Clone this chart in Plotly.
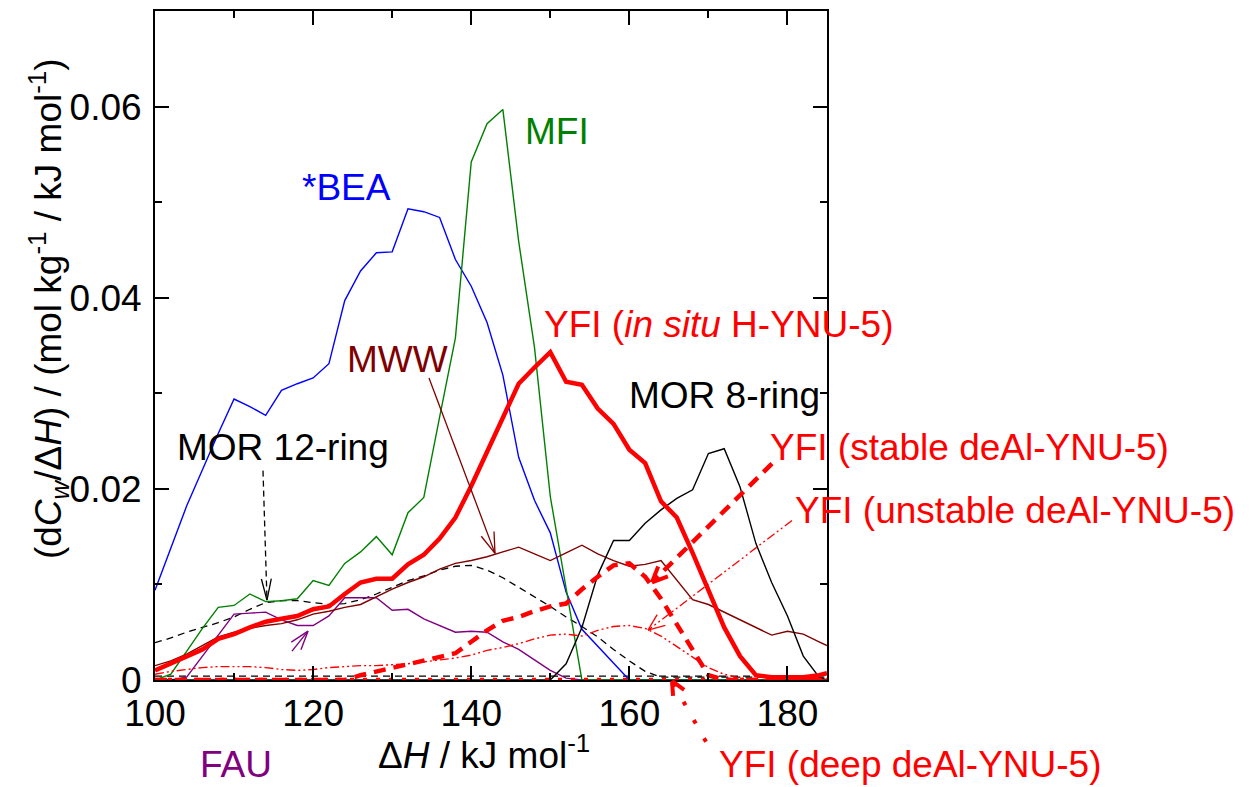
import math
import plotly.graph_objects as go

FONT = "Liberation Sans, Arial, sans-serif"

# ---------------- data ----------------
H = [100, 102, 104, 106, 108, 110, 112, 114, 116, 118, 120, 122, 124, 126, 128, 130,
     132, 134, 136, 138, 140, 142, 144, 146, 148, 150, 152, 154, 156, 158, 160,
     162, 164, 166, 168, 170, 172, 174, 176, 178, 180, 182, 184, 185]

BEA = [0.0094, 0.0138, 0.0182, 0.0220, 0.0258, 0.0294,
       0.0286, 0.0277, 0.0303, 0.0310, 0.0316,
       0.0331, 0.0397, 0.0428, 0.0447, 0.0448,
       0.0493, 0.0490, 0.0484, 0.0440, 0.0412,
       0.0374, 0.0319, 0.0233, 0.0188, 0.0154,
       0.0092, 0.0053, 0.0035, 0.0018, 0.0,
       0.0, 0.0, 0.0, 0.0, 0.0,
       0.0, 0.0, 0.0, 0.0, 0.0,
       0.0, 0.0, 0.0]

MFI = [0.0, 0.0006, 0.0030, 0.0054, 0.0076, 0.0078,
       0.0090, 0.0082, 0.0083, 0.0085, 0.0104,
       0.0099, 0.0122, 0.0134, 0.0150, 0.0131,
       0.0175, 0.0191, 0.0275, 0.0358, 0.0542,
       0.0582, 0.0597, 0.0459, 0.0348, 0.0192,
       0.0096, 0.0, 0.0, 0.0, 0.0,
       0.0, 0.0, 0.0, 0.0, 0.0,
       0.0, 0.0, 0.0, 0.0, 0.0,
       0.0, 0.0, 0.0]

MWW = [0.0015, 0.0020, 0.0027, 0.0036, 0.0045, 0.0050,
       0.0054, 0.0057, 0.0059, 0.0063, 0.0069,
       0.0072, 0.0076, 0.0079, 0.0087, 0.0095,
       0.0102, 0.0108, 0.0116, 0.0122, 0.0125,
       0.0129, 0.0134, 0.0139, 0.0132, 0.0125,
       0.0133, 0.0141, 0.0132, 0.0125, 0.0119,
       0.0121, 0.0125, 0.0104, 0.0084, 0.0079,
       0.0071, 0.0063, 0.0055, 0.0047, 0.0051,
       0.0048, 0.0040, 0.0036]

MOR8 = [0.0, 0.0, 0.0, 0.0, 0.0, 0.0,
        0.0, 0.0, 0.0, 0.0, 0.0,
        0.0, 0.0, 0.0, 0.0, 0.0,
        0.0, 0.0, 0.0, 0.0, 0.0,
        0.0, 0.0, 0.0, 0.0, 0.0,
        0.0017, 0.0055, 0.0110, 0.0146, 0.0146,
        0.0164, 0.0178, 0.0190, 0.0199, 0.0237,
        0.0242, 0.0202, 0.0143, 0.0102, 0.0067,
        0.0025, 0.0003, 0.0]

MOR12 = [0.0039, 0.0044, 0.0050, 0.0055, 0.0060, 0.0066,
         0.0074, 0.0081, 0.0083, 0.0083, 0.0081,
         0.0079, 0.0080, 0.0084, 0.0090, 0.0097,
         0.0104, 0.0109, 0.0115, 0.0119, 0.0120,
         0.0115, 0.0107, 0.0097, 0.0087, 0.0077,
         0.0066, 0.0056, 0.0045, 0.0032, 0.0020,
         0.0009, 0.0003, 0.0003, 0.0003, 0.0003,
         0.0003, 0.0003, 0.0003, 0.0003, 0.0003,
         0.0003, 0.0003, 0.0003]

BASE_H = [100, 185]
BASE_DASHED = [0.0004, 0.0004]

FAU = [0.0, 0.0, 0.0003, 0.0025, 0.0047, 0.0069,
       0.0070, 0.0071, 0.0063, 0.0057, 0.0057,
       0.0067, 0.0086, 0.0086, 0.0086, 0.0073,
       0.0074, 0.0064, 0.0057, 0.0050, 0.0051,
       0.0050, 0.0040, 0.0032, 0.0021, 0.0010,
       0.0002, 0.0, 0.0, 0.0, 0.0,
       0.0, 0.0, 0.0, 0.0, 0.0,
       0.0, 0.0, 0.0, 0.0, 0.0,
       0.0, 0.0, 0.0]

YFI_INSITU = [0.0010, 0.0017, 0.0024, 0.0032, 0.0043, 0.0048,
              0.0055, 0.0061, 0.0064, 0.0067, 0.0074,
              0.0077, 0.0090, 0.0102, 0.0106, 0.0106,
              0.0121, 0.0131, 0.0148, 0.0170, 0.0203,
              0.0239, 0.0274, 0.0310, 0.0327, 0.0343,
              0.0312, 0.0309, 0.0284, 0.0268, 0.0241,
              0.0227, 0.0187, 0.0170, 0.0133, 0.0093,
              0.0055, 0.0025, 0.0005, 0.0003, 0.0003,
              0.0003, 0.0005, 0.0007]

YFI_STABLE = [0.0, 0.0, 0.0, 0.0, 0.0, 0.0,
              0.0, 0.0, 0.0, 0.0, 0.0,
              0.0, 0.0, 0.0005, 0.0009, 0.0012,
              0.0016, 0.0020, 0.0024, 0.0028, 0.0040,
              0.0052, 0.0062, 0.0066, 0.0072, 0.0077,
              0.0080, 0.0095, 0.0108, 0.0120, 0.0122,
              0.0108, 0.0085, 0.0058, 0.0031, 0.0005,
              0.0, 0.0, 0.0, 0.0, 0.0,
              0.0, 0.0, 0.0]

YFI_UNSTABLE = [0.0006, 0.0009, 0.0011, 0.0013, 0.0014, 0.0014,
                0.0014, 0.0013, 0.0011, 0.0010, 0.0011,
                0.0013, 0.0014, 0.0015, 0.0015, 0.0016,
                0.0017, 0.0019, 0.0021, 0.0023, 0.0026,
                0.0031, 0.0034, 0.0038, 0.0043, 0.0047,
                0.0048, 0.0046, 0.0052, 0.0056, 0.0057,
                0.0054, 0.0046, 0.0035, 0.0024, 0.0013,
                0.0006, 0.0002, 0.0, 0.0, 0.0,
                0.0, 0.0, 0.0]

DEEP_H = [100, 185]
YFI_DEEP = [0.0, 0.0]

X_TICKS = [100, 120, 140, 160, 180]
X_MINOR = [110, 130, 150, 170]
Y_TICKS = [0, 0.02, 0.04, 0.06]
Y_TICK_TEXT = ["0", "0.02", "0.04", "0.06"]
Y_MINOR = [0.01, 0.03, 0.05]

# ---------------- figure ----------------
W, HGT = 1249, 787
ML, MR, MT, MB = 155, 422, 9, 107
PW, PH = W - ML - MR, HGT - MT - MB


def px(X):
    return (X - ML) / PW


def py(Y):
    return (HGT - MB - Y) / PH


fig = go.Figure()


def add_line(x, y, color, width, dash="solid"):
    fig.add_trace(go.Scatter(x=x, y=y, mode="lines",
                             line=dict(color=color, width=width, dash=dash),
                             hoverinfo="skip", cliponaxis=True))


add_line(BASE_H, BASE_DASHED, "black", 1.3, "7px,5px")
add_line(H, MOR12, "black", 1.3, "7px,5px")
add_line(H, FAU, "#800080", 1.4)
add_line(H, BEA, "#0000FF", 1.4)
add_line(H, MFI, "#008000", 1.4)
add_line(H, MWW, "#800000", 1.4)
add_line(H, MOR8, "black", 1.4)
add_line(H, YFI_UNSTABLE, "#FF0000", 1.4, "9px,3px,2px,3px,2px,3px")
add_line(H, YFI_STABLE, "#FF0000", 4.5, "12px,8px")
add_line(DEEP_H, YFI_DEEP, "#FF0000", 4.5, "4px,9px")
add_line(H, YFI_INSITU, "#FF0000", 4.5)

shapes = []


def arrow(tail, head, color, width, dash, L, ang, hw):
    shapes.append(dict(type="line", xref="paper", yref="paper",
                       x0=px(tail[0]), y0=py(tail[1]), x1=px(head[0]), y1=py(head[1]),
                       line=dict(color=color, width=width, dash=dash)))
    dx, dy = tail[0] - head[0], tail[1] - head[1]
    n = math.hypot(dx, dy)
    ux, uy = dx / n, dy / n
    for s in (1, -1):
        a = math.radians(ang) * s
        rx = ux * math.cos(a) - uy * math.sin(a)
        ry = ux * math.sin(a) + uy * math.cos(a)
        ex, ey = head[0] + L * rx, head[1] + L * ry
        shapes.append(dict(type="line", xref="paper", yref="paper",
                           x0=px(head[0]), y0=py(head[1]), x1=px(ex), y1=py(ey),
                           line=dict(color=color, width=hw)))


arrow((263, 470), (267, 600), "black", 1.3, "6px,4px", 22, 13, 1.3)
arrow((429, 377), (495, 553), "#800000", 1.3, "solid", 22, 18, 1.3)
arrow((292, 651), (308, 631), "#800080", 1.4, "solid", 20, 18, 1.4)
arrow((772, 463), (652, 582), "#FF0000", 4.5, "12px,8px", 17, 24, 4)
arrow((792, 520), (648, 630), "#FF0000", 1.3, "9px,3px,2px,3px,2px,3px", 18, 22, 1.3)
arrow((706, 742), (672, 681), "#FF0000", 4.0, "4px,17px", 15, 25, 4)

labels = [
    ("*BEA", "#0000FF", 300, 186),
    ("MFI", "#008000", 523, 130),
    ("MWW", "#800000", 345, 359),
    ("YFI (<i>in situ</i> H-YNU-5)", "#FF0000", 542, 323),
    ("MOR 8-ring", "black", 627, 395),
    ("MOR 12-ring", "black", 175, 447),
    ("YFI (stable deAl-YNU-5)", "#FF0000", 768, 447),
    ("YFI (unstable deAl-YNU-5)", "#FF0000", 793, 510),
    ("YFI (deep deAl-YNU-5)", "#FF0000", 717, 765),
    ("FAU", "#800080", 198, 765),
]

annotations = []
for text, color, X, Y in labels:
    annotations.append(dict(text=text, xref="paper", yref="paper", x=px(X), y=py(Y),
                            xanchor="left", yanchor="middle", showarrow=False,
                            font=dict(family=FONT, size=37, color=color)))

# axis titles
annotations.append(dict(text="Δ<i>H</i> / kJ mol<sup>-1</sup>", xref="paper", yref="paper",
                        x=px(484), y=py(753), xanchor="center", yanchor="middle",
                        showarrow=False, font=dict(family=FONT, size=37, color="black")))
annotations.append(dict(text="(d<i>C</i><sub><i>w</i></sub>/Δ<i>H</i>) / (mol kg<sup>-1</sup> / kJ mol<sup>-1</sup>)",
                        xref="paper", yref="paper", x=px(48), y=py(308), textangle=-90,
                        xanchor="center", yanchor="middle", showarrow=False,
                        font=dict(family=FONT, size=37, color="black")))

axis_common = dict(showline=True, linewidth=2, linecolor="black", mirror="ticks",
                   ticks="inside", ticklen=14, tickwidth=1.5, tickcolor="black",
                   showgrid=False, zeroline=False,
                   tickfont=dict(family=FONT, size=37, color="black"))

fig.update_layout(
    width=W, height=HGT,
    margin=dict(l=ML, r=MR, t=MT, b=MB),
    paper_bgcolor="white", plot_bgcolor="white",
    showlegend=False,
    font=dict(family=FONT, size=37, color="black"),
    xaxis=dict(range=[100, 185], tickmode="array", tickvals=X_TICKS,
               minor=dict(tickmode="array", tickvals=X_MINOR, ticks="inside", ticklen=7,
                          tickwidth=1.5, tickcolor="black"),
               ticklabelstandoff=0, **axis_common),
    yaxis=dict(range=[0, 0.07], tickmode="array", tickvals=Y_TICKS, ticktext=Y_TICK_TEXT,
               minor=dict(tickmode="array", tickvals=Y_MINOR, ticks="inside", ticklen=7,
                          tickwidth=1.5, tickcolor="black"),
               ticklabelstandoff=4, **axis_common),
    shapes=shapes,
    annotations=annotations,
)

fig.write_html("out.html")
